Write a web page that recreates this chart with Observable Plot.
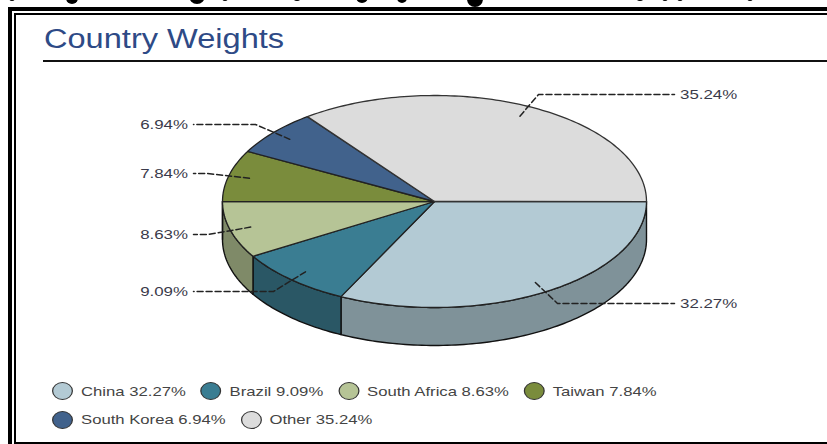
<!DOCTYPE html>
<html><head><meta charset="utf-8">
<script src="https://cdn.jsdelivr.net/npm/d3@7"></script>
<script src="https://cdn.jsdelivr.net/npm/@observablehq/plot@0.6"></script>
<style>
html,body{margin:0;padding:0;background:#fff;width:827px;height:444px;overflow:hidden;font-family:"Liberation Sans",sans-serif}
#frame{position:absolute;left:8px;top:7px;width:819px;height:437px;box-sizing:border-box;border-top:4px solid #000;border-left:4px solid #000;}
#inner{position:absolute;left:14px;top:13px;width:813px;height:431px;box-sizing:border-box;border-top:2px solid #000;border-left:2px solid #000;border-bottom:2px solid #000;}
#title{position:absolute;left:44px;top:22px;height:34px;line-height:34px;font-size:27px;color:#2e4a86;transform:scaleX(1.206);transform-origin:left center;white-space:nowrap}
#rule{position:absolute;left:43px;top:60px;width:784px;height:2px;background:#111}
#chart{position:absolute;left:0;top:62px}
#legend{position:absolute;left:52px;top:377px;width:640px;font-size:13.5px;color:#444;transform:scaleX(1.235);transform-origin:left top}
.row{display:flex;align-items:center;height:28.5px;white-space:nowrap}
.item{display:flex;align-items:center;margin-right:12px}
.sw{width:17px;height:18px;border:1.5px solid #333;border-radius:50%;margin-right:6.5px;box-sizing:border-box;flex:none}
.blob{position:absolute;background:#000;border-radius:50%}
</style></head><body>
<div id="frame"></div><div id="inner"></div>
<div id="title">Country Weights</div><div id="rule"></div>
<div id="chart"></div>
<div id="legend"></div>
<script>
const countries = ["China","Brazil","South Africa","Taiwan","South Korea","Other"];
const weights = [32.27,9.09,8.63,7.84,6.94,35.24];
const topColors = ["#b3cad4","#3a7d92","#b6c496","#7a8c3c","#41628c","#dcdcdc"];
const sideColors = ["#7f9299","#2a5765","#7f8a68",null,null,null];

const W=827,H=310,top0=62;
const cx=434,cy=201-top0,rx=212,ry=106,depth=38;
const ang=[0];weights.forEach(v=>ang.push(ang[ang.length-1]+v/100*2*Math.PI));
const P=(t,dy=0,r=1)=>({px:cx+r*rx*Math.cos(t),py:cy+r*ry*Math.sin(t)+dy});
function arc(a,b,dy=0){const n=Math.max(2,Math.ceil((b-a)/0.02));return d3.range(n+1).map(i=>P(a+(b-a)*i/n,dy));}
const slices=weights.map((v,i)=>[{px:cx,py:cy},...arc(ang[i],ang[i+1]),{px:cx,py:cy}]);
const sides=[];
weights.forEach((v,i)=>{
  const a=ang[i],b=Math.min(ang[i+1],Math.PI);
  if(a>=Math.PI-1e-9) return;
  sides.push({i,pts:[...arc(a,b),...arc(a,b,depth).reverse(),P(a)]});
});
const common={x:"px",y:"py"};
const mids=weights.map((v,i)=>(ang[i]+ang[i+1])/2);
const labelY=[303,291,234,173,124,94].map(y=>y-top0);
const labelEndX=[674,193,193,193,193,674];
const kinkX=[557,273,207,207,255,538];
const leaders=weights.map((v,i)=>[P(mids[i],0,0.9),{px:kinkX[i],py:labelY[i]},{px:labelEndX[i],py:labelY[i]}]);
const isRight=i=>i==0||i==5;
const labels=weights.map((v,i)=>({px:isRight(i)?679.5:187.5,py:labelY[i],t:v.toFixed(2)+"%",right:isRight(i)}));
const textOpt={x:"px",y:"py",text:"t",fontSize:13.5,fill:"#3a3a4a",fontFamily:"Liberation Sans"};
const plot=Plot.plot({width:W,height:H,margin:0,
  x:{domain:[0,W],range:[0,W],axis:null},
  y:{domain:[0,H],range:[0,H],axis:null},
  marks:[
    ...sides.map(s=>Plot.line(s.pts,{...common,fill:sideColors[s.i],stroke:"#111",strokeWidth:1.4})),
    ...slices.map((s,i)=>Plot.line(s,{...common,fill:topColors[i],stroke:i==5?"#333":"#222",strokeWidth:1.3})),
    ...leaders.map(l=>Plot.line(l,{...common,stroke:"#222",strokeWidth:1.5,strokeDasharray:"6,3"})),
    Plot.text(labels.filter(d=>d.right),{...textOpt,textAnchor:"start"}),
    Plot.text(labels.filter(d=>!d.right),{...textOpt,textAnchor:"end"})
  ]});
document.getElementById("chart").appendChild(plot);
plot.querySelectorAll("text").forEach(t=>{const w=t.getComputedTextLength();t.setAttribute("textLength",w*1.25);t.setAttribute("lengthAdjust","spacingAndGlyphs");});
const rows=[[0,1,2,3],[4,5]];
const lg=document.getElementById("legend");
rows.forEach(r=>{const row=document.createElement("div");row.className="row";
  r.forEach(i=>{const it=document.createElement("div");it.className="item";
    const s=document.createElement("span");s.className="sw";s.style.background=topColors[i];
    const t=document.createElement("span");t.textContent=countries[i]+" "+weights[i].toFixed(2)+"%";
    it.append(s,t);row.append(it);});
  lg.append(row);});
// clipped remains of the page above the chart, at the top edge
[[72,12,4],[197,16,4],[362,12,3],[402,10,3],[475,16,7],[12,6,1],[225,6,1],[297,8,1],[640,8,1],[665,6,1],[680,6,1],[750,6,1]].forEach(([x,w,b])=>{
  const d=document.createElement("div");d.className="blob";
  d.style.cssText=`left:${x-w/2}px;width:${w}px;height:${w}px;top:${b-w}px`;document.body.append(d);});
</script></body></html>
